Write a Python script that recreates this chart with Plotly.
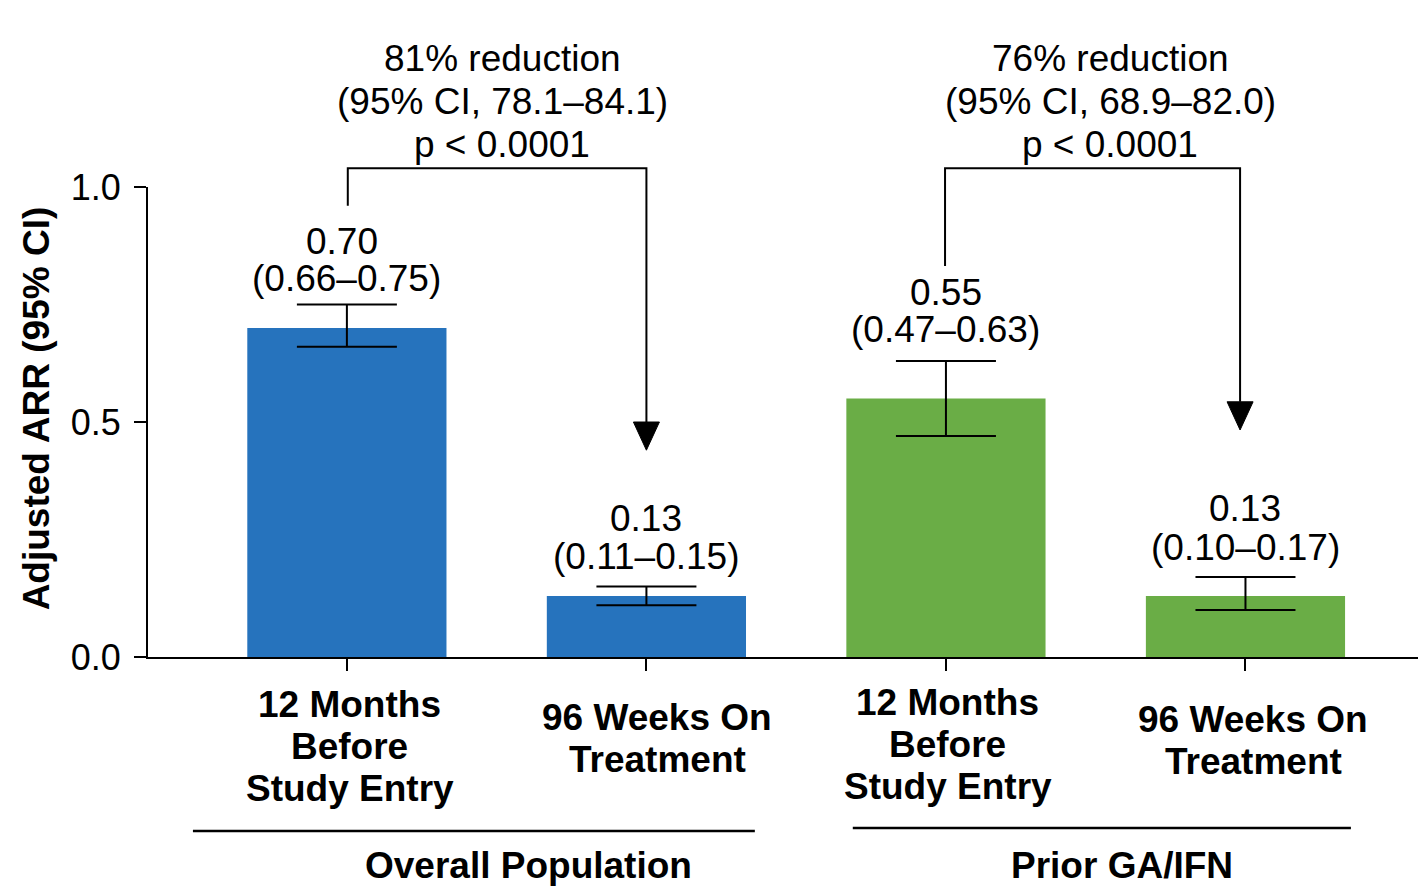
import plotly.graph_objects as go

# ---- data ----
categories = ["12 Months Before Study Entry", "96 Weeks On Treatment",
              "12 Months Before Study Entry", "96 Weeks On Treatment"]
cat_lines = [["12 Months", "Before", "Study Entry"], ["96 Weeks On", "Treatment"],
             ["12 Months", "Before", "Study Entry"], ["96 Weeks On", "Treatment"]]
arr_values = [0.70, 0.13, 0.55, 0.13]
ci_lower = [0.66, 0.11, 0.47, 0.10]
ci_upper = [0.75, 0.15, 0.63, 0.17]
groups = ["Overall Population", "Prior GA/IFN"]
reduction_text = [["81% reduction", "(95% CI, 78.1–84.1)", "p < 0.0001"],
                  ["76% reduction", "(95% CI, 68.9–82.0)", "p < 0.0001"]]
y_ticks = [0.0, 0.5, 1.0]

# ---- styles ----
BLUE = "#2673BD"
GREEN = "#6AAD46"
bar_colors = [BLUE, BLUE, GREEN, GREEN]
FONT = "Liberation Sans, Arial, sans-serif"
FS = 37
xs = list(range(len(categories)))

fig = go.Figure()
fig.add_trace(go.Bar(
    x=xs, y=arr_values, width=0.665,
    marker=dict(color=bar_colors, line=dict(width=0)),
    error_y=dict(type="data", symmetric=False,
                 array=[u - v for u, v in zip(ci_upper, arr_values)],
                 arrayminus=[v - l for v, l in zip(arr_values, ci_lower)],
                 color="black", thickness=2, width=50),
    hoverinfo="skip",
))

ann = []
# value labels above error bars
label_shifts = [(26, 63), (30, 68), (31, 68), (30, 69)]
label_dx = [-5, 0, 0, 0]
for i, (v, lo, up) in enumerate(zip(arr_values, ci_lower, ci_upper)):
    s_ci, s_v = label_shifts[i]
    ann.append(dict(x=xs[i], y=up, xref="x", yref="y", text=f"{v:.2f}",
                    showarrow=False, yanchor="middle", yshift=s_v, xshift=label_dx[i],
                    font=dict(size=FS, family=FONT, color="black")))
    ann.append(dict(x=xs[i], y=up, xref="x", yref="y", text=f"({lo:.2f}–{up:.2f})",
                    showarrow=False, yanchor="middle", yshift=s_ci,
                    font=dict(size=FS, family=FONT, color="black")))

# category labels (bold, multi line) -- paper y (domain == data range [0, 1])
cat_x_px_shift = [3, 11, 2, 8]
cat_first_y = [-0.100, -0.128, -0.096, -0.132]
line_step = 0.0894
for i, lines in enumerate(cat_lines):
    for j, t in enumerate(lines):
        ann.append(dict(x=xs[i], y=cat_first_y[i] - j * line_step, xref="x", yref="paper",
                        text=f"<b>{t}</b>", showarrow=False, yanchor="middle",
                        xshift=cat_x_px_shift[i],
                        font=dict(size=FS, family=FONT, color="black")))

# group labels + lines
group_x = [0.607, 2.588]
group_line = [(-0.514, 1.362, -0.370), (1.689, 3.352, -0.364)]
shapes = []
for g, gx, (x0, x1, yl) in zip(groups, group_x, group_line):
    ann.append(dict(x=gx, y=-0.443, xref="x", yref="paper", text=f"<b>{g}</b>",
                    showarrow=False, yanchor="middle",
                    font=dict(size=FS, family=FONT, color="black")))
    shapes.append(dict(type="line", xref="x", yref="paper", x0=x0, x1=x1, y0=yl, y1=yl,
                       line=dict(color="black", width=2.5)))

# reduction brackets
bracket_defs = [  # (x_left, x_right, y_left_start, y_top, arrow_tip, text_x)
    (0.003, 1.0, 0.960, 1.040, 0.440, 0.518),
    (1.997, 2.982, 0.832, 1.040, 0.483, 2.548),
]
red_y = [1.274, 1.181, 1.091]
for (xl, xr, yls, yt, tip, tx), lines in zip(bracket_defs, reduction_text):
    base = tip + 0.060
    hw = 0.0434
    shapes.append(dict(type="path", xref="x", yref="paper",
                       path=f"M {xl},{yls} L {xl},{yt} L {xr},{yt} L {xr},{base}",
                       line=dict(color="black", width=2)))
    shapes.append(dict(type="path", xref="x", yref="paper",
                       path=f"M {xr-hw},{base} L {xr+hw},{base} L {xr},{tip} Z",
                       fillcolor="black", line=dict(color="black", width=1)))
    for t, ty in zip(lines, red_y):
        ann.append(dict(x=tx, y=ty, xref="x", yref="paper", text=t, showarrow=False,
                        yanchor="middle",
                        font=dict(size=FS, family=FONT, color="black")))

# y axis title
ann.append(dict(x=-0.0882, y=0.529, xref="paper", yref="paper",
                text="<b>Adjusted ARR (95% CI)</b>", textangle=-90, showarrow=False,
                xanchor="center", yanchor="middle",
                font=dict(size=FS, family=FONT, color="black")))

fig.update_layout(
    width=1418, height=888,
    margin=dict(l=148, r=0, t=187, b=231),
    plot_bgcolor="white", paper_bgcolor="white",
    showlegend=False,
    font=dict(family=FONT, color="black"),
    annotations=ann, shapes=shapes,
    xaxis=dict(range=[-0.664, 3.576], tickvals=xs, ticktext=["" for _ in xs],
               ticks="outside", ticklen=12, tickwidth=2, tickcolor="black",
               showline=True, linecolor="black", linewidth=2,
               showgrid=False, zeroline=False, fixedrange=True),
    yaxis=dict(range=[0, 1.0], tickvals=y_ticks, ticktext=[f"{t:.1f}" for t in y_ticks],
               ticks="outside", ticklen=12, tickwidth=2, tickcolor="black",
               tickfont=dict(size=36, family=FONT, color="black"),
               ticklabelstandoff=6,
               showline=True, linecolor="black", linewidth=2,
               showgrid=False, zeroline=False, fixedrange=True),
)

fig.write_html("out.html", config={"displayModeBar": False},
               post_script="document.body.style.margin='0';document.body.style.overflow='hidden';")
